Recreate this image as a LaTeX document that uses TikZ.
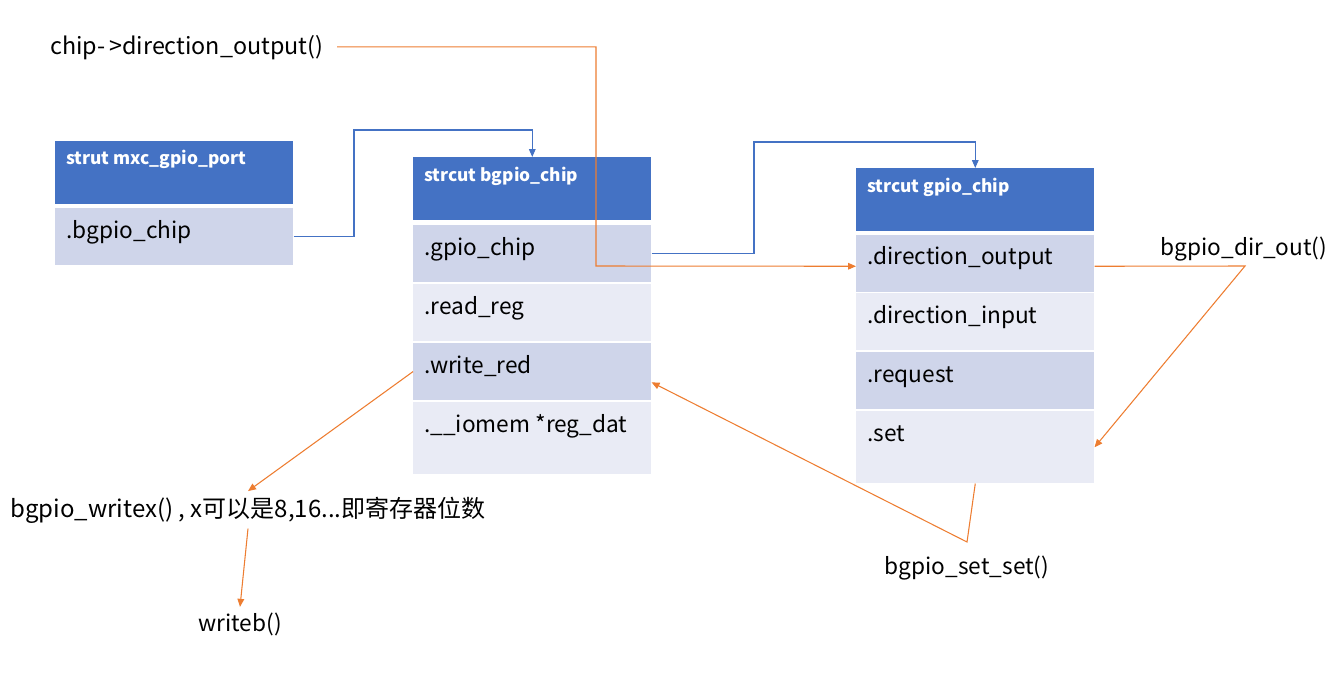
\documentclass[tikz,border=0pt]{standalone}
\usepackage{fontspec}
\setmainfont{Noto Sans CJK SC}
\usetikzlibrary{arrows.meta,calc}
\definecolor{hdrblue}{HTML}{4472C4}
\definecolor{rowdark}{HTML}{CFD5EA}
\definecolor{rowlight}{HTML}{E9EBF5}
\definecolor{orangeline}{HTML}{ED7D31}
\tikzset{
  box/.style={anchor=north west, inner sep=0pt, minimum width=178.5pt, draw=none},
  hdr/.style={box, fill=hdrblue, minimum height=47pt},
  rowd/.style={box, fill=rowdark, minimum height=42.5pt},
  rowl/.style={box, fill=rowlight, minimum height=42.5pt},
  rowlt/.style={box, fill=rowlight, minimum height=54pt},
  hdrtext/.style={anchor=base west, inner sep=0pt, text=white, font=\bfseries\fontsize{13}{15}\selectfont},
  rowtext/.style={anchor=base west, inner sep=0pt, font=\fontsize{17}{20}\selectfont},
  freetext/.style={inner sep=0pt, font=\fontsize{17}{20}\selectfont},
  bluecon/.style={draw=hdrblue, line width=0.8pt, -{Triangle[length=6pt,width=5pt]}},
  orangecon/.style={draw=orangeline, line width=0.8pt, -{Triangle[length=6pt,width=5pt]}},
}
\begin{document}
\begin{tikzpicture}[x=0.75pt,y=-0.75pt]
\useasboundingbox (0,0) rectangle (1333,685);
% box 1
\node[hdr] (b1h) at (55,141) {};
\node[rowd] (b1r1) at (55,208) {};
\node[hdrtext] (b1ht) at (66,164) {strut mxc\_gpio\_port};
\node[rowtext] (b1r1t) at (66,238) {.bgpio\_chip};
% box 2
\node[hdr] (b2h) at (413,157) {};
\node[rowd] (b2r1) at (413,225) {};
\node[rowl] (b2r2) at (413,284) {};
\node[rowd] (b2r3) at (413,343) {};
\node[rowlt] (b2r4) at (413,402) {};
\node[hdrtext] (b2ht) at (424,181) {strcut bgpio\_chip};
\node[rowtext] (b2r1t) at (424,255) {.gpio\_chip};
\node[rowtext] (b2r2t) at (424,314) {.read\_reg};
\node[rowtext] (b2r3t) at (424,373) {.write\_red};
\node[rowtext] (b2r4t) at (424,432) {.\_\_iomem *reg\_dat};
% box 3
\node[hdr] (b3h) at (856,168) {};
\node[rowd] (b3r1) at (856,235) {};
\node[rowl] (b3r2) at (856,293) {};
\node[rowd] (b3r3) at (856,352) {};
\node[rowlt] (b3r4) at (856,411) {};
\node[hdrtext] (b3ht) at (867,192) {strcut gpio\_chip};
\node[rowtext] (b3r1t) at (867,264) {.direction\_output};
\node[rowtext] (b3r2t) at (867,323) {.direction\_input};
\node[rowtext] (b3r3t) at (867,382) {.request};
\node[rowtext] (b3r4t) at (867,441) {.set};
% free labels
\node[freetext, anchor=base west, font=\fontsize{17.5}{20}\selectfont] (cdo) at (50,55) {chip-\,>direction\_output()};
\node[freetext, anchor=base] (dout) at (1244,255) {bgpio\_dir\_out()};
\node[freetext, anchor=base] (ss) at (967,574) {bgpio\_set\_set()};
\node[freetext, anchor=base, inner ysep=4pt, font=\fontsize{18}{20}\selectfont] (wx) at (248,517) {bgpio\_writex() , x可以是8,16...即寄存器位数};
\node[freetext, anchor=base, inner ysep=4pt] (wb) at (240,631) {writeb()};
% coordinates
\coordinate (k1) at (354,130);
\coordinate (k2) at (754,142);
\coordinate (k3) at (596,266);
\coordinate (k4) at (1245,266);
\coordinate (k5) at (967,542);
% blue connectors
\draw[bluecon] (b1r1.east) -| (k1) -| (b2h.north);
\draw[bluecon] (b2r1.east) -| (k2) -| (b3h.north);
% orange connectors
\draw[orangecon] ([xshift=10pt,yshift=1pt]cdo.east) -| (k3) -- ([yshift=-2pt]b3r1.west);
\draw[orangecon] ([yshift=-2pt]b3r1.east) -- (k4) -- (b3r4.east);
\draw[orangecon] (b3r4.south) -- (k5) -- ([yshift=-8pt]b2r3.east);
\draw[orangecon] (b2r3.west) -- (wx.north);
\draw[orangecon] (wx.south) -- (wb.north);
\end{tikzpicture}
\end{document}
